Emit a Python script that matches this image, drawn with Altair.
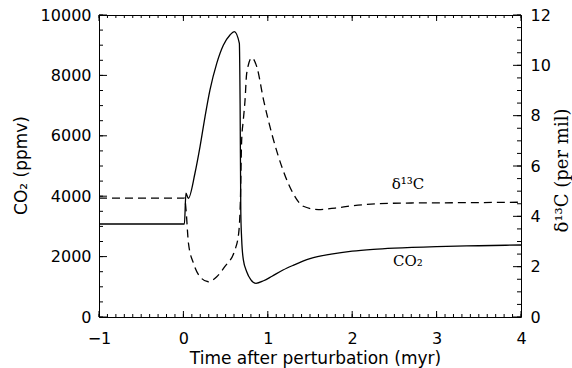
import altair as alt
import numpy as np
import pandas as pd

# ---- data ----
co2_t = [-1.0, 0.0, 0.012, 0.03, 0.058, 0.137, 0.197, 0.256, 0.315, 0.395, 0.473,
         0.552, 0.603, 0.663, 0.672, 0.68, 0.69, 0.71, 0.75, 0.80, 0.86, 0.95,
         1.05, 1.18, 1.30, 1.50, 1.75, 2.0, 2.25, 2.5, 3.0, 3.5, 4.0]
co2_v = [3080, 3080, 3080, 4100, 3930, 4760, 5640, 6630, 7520, 8400, 9000,
         9340, 9450, 9060, 7000, 3500, 2600, 1900, 1500, 1230, 1115, 1200,
         1350, 1556, 1710, 1930, 2080, 2180, 2240, 2280, 2330, 2360, 2384]

d13_t = [-1.0, 0.015, 0.03, 0.06, 0.12, 0.197, 0.295, 0.395, 0.49, 0.61, 0.655,
         0.675, 0.69, 0.71, 0.73, 0.75, 0.81, 0.87, 0.95, 1.046, 1.18,
         1.30, 1.42, 1.6, 1.8, 2.0, 2.3, 2.7, 3.2, 4.0]
d13_v = [4.72, 4.72, 4.3, 2.93, 2.13, 1.6, 1.40, 1.6, 2.0, 2.66, 3.33,
         4.6, 7.0, 7.83, 8.6, 9.68, 10.3, 9.94, 8.62, 7.3, 5.84,
         4.91, 4.40, 4.27, 4.33, 4.42, 4.5, 4.53, 4.54, 4.56]

x_ticks = [-1, 0, 1, 2, 3, 4]
co2_ticks = [0, 2000, 4000, 6000, 8000, 10000]
d13_ticks = [0, 2, 4, 6, 8, 10, 12]

label_d13 = {"t": [2.66], "v": [5.3], "txt": ["δ¹³C"]}
label_co2 = {"t": [2.66], "v": [1850], "txt": ["CO₂"]}

W, H = 422, 302
SANS = "DejaVu Sans"
SERIF = "DejaVu Serif"

co2_df = pd.DataFrame({"t": co2_t, "v": co2_v})
d13_df = pd.DataFrame({"t": d13_t, "v": d13_v})

xs = alt.Scale(domain=[-1, 4], nice=False, zero=False)
ys_co2 = alt.Scale(domain=[0, 10000], nice=False)
ys_d13 = alt.Scale(domain=[0, 12], nice=False)

xaxis = alt.Axis(values=x_ticks, ticks=False, domain=False, grid=False, format="d",
                 labelFont=SANS, labelFontSize=16, labelColor="black",
                 labelPadding=13, labelFlush=False, labelOverlap=False,
                 title="Time after perturbation (myr)", titleFont=SANS,
                 titleFontSize=17, titleFontWeight="normal", titleColor="black",
                 titleX=216, titleY=41, titleBaseline="middle")


def X(field="t"):
    return alt.X(f"{field}:Q", scale=xs, axis=xaxis, title="Time after perturbation (myr)")


co2_line = alt.Chart(co2_df).mark_line(color="black", strokeWidth=1.3, interpolate="monotone").encode(
    x=X(),
    y=alt.Y("v:Q", scale=ys_co2,
            axis=alt.Axis(values=co2_ticks, ticks=False, domain=False, grid=False, format="d",
                          labelFont=SANS, labelFontSize=16, labelColor="black",
                          labelPadding=8, title="CO₂ (ppmv)", titleFont=SANS,
                          titleFontSize=17, titleFontWeight="normal", titleColor="black",
                          titleAngle=270, titleX=-78, titleY=150, titleBaseline="middle")),
)

d13_line = alt.Chart(d13_df).mark_line(color="black", strokeWidth=1.3, strokeDash=[8, 5],
                                       interpolate="monotone").encode(
    x=X(),
    y=alt.Y("v:Q", scale=ys_d13,
            axis=alt.Axis(orient="right", values=d13_ticks, ticks=False, domain=False, grid=False,
                          format="d",
                          labelFont=SANS, labelFontSize=16, labelColor="black",
                          labelPadding=9, title="δ¹³C (per mil)", titleFont=SERIF,
                          titleFontSize=18, titleFontWeight="normal", titleColor="black",
                          titleAngle=270, titleX=41, titleY=155, titleBaseline="middle")),
)

# inward tick marks
xmaj = pd.DataFrame({"v": x_ticks})
xmin = pd.DataFrame({"v": [round(v, 2) for v in np.arange(-1, 4.001, 0.1)]})
ymaj = pd.DataFrame({"v": co2_ticks})
ymin = pd.DataFrame({"v": list(range(0, 10001, 500))})
rmaj = pd.DataFrame({"v": d13_ticks})
rmin = pd.DataFrame({"v": [v / 2 for v in range(0, 25)]})


def xtick(df, length):
    bot = alt.Chart(df).mark_rule(color="black", strokeWidth=1).encode(
        x=X("v"), y=alt.value(H), y2=alt.value(H - length))
    top = alt.Chart(df).mark_rule(color="black", strokeWidth=1).encode(
        x=X("v"), y=alt.value(0), y2=alt.value(length))
    return [bot, top]


def ytick(df, scale, length, right=False):
    if right:
        return alt.Chart(df).mark_rule(color="black", strokeWidth=1).encode(
            y=alt.Y("v:Q", scale=scale, axis=None), x=alt.value(W), x2=alt.value(W - length))
    return alt.Chart(df).mark_rule(color="black", strokeWidth=1).encode(
        y=alt.Y("v:Q", scale=scale, axis=None), x=alt.value(0), x2=alt.value(length))


ticks = (xtick(xmaj, 6) + xtick(xmin, 3) +
         [ytick(ymaj, ys_co2, 8), ytick(ymin, ys_co2, 4),
          ytick(rmaj, ys_d13, 8, True), ytick(rmin, ys_d13, 4, True)])

lab1 = alt.Chart(pd.DataFrame(label_d13)).mark_text(font=SERIF, fontSize=15, color="black").encode(
    x=X(), y=alt.Y("v:Q", scale=ys_d13, axis=None), text="txt:N")
lab2 = alt.Chart(pd.DataFrame(label_co2)).mark_text(font=SERIF, fontSize=15, color="black").encode(
    x=X(), y=alt.Y("v:Q", scale=ys_co2, axis=None), text="txt:N")

chart = alt.layer(co2_line, d13_line, *ticks, lab1, lab2).resolve_scale(
    y="independent"
).properties(
    width=W, height=H,
    autosize=alt.AutoSizeParams(type="none"),
    padding={"left": 99, "top": 15, "right": 51, "bottom": 51},
    background="white",
).configure_view(stroke="black", strokeWidth=1)

chart.save("out.html", embed_options={"renderer": "svg", "actions": False})
